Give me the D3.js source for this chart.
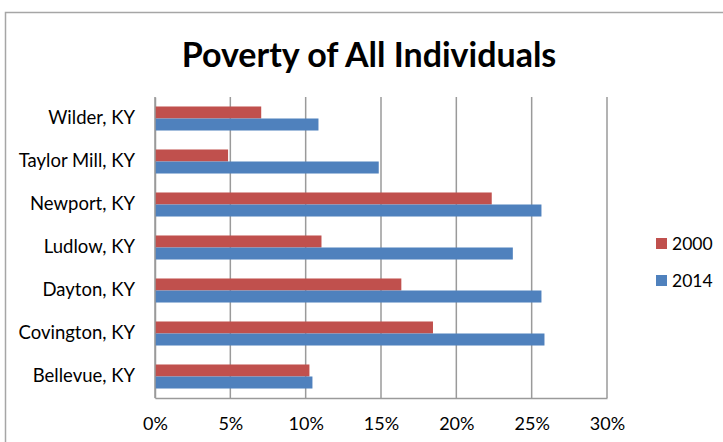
<!DOCTYPE html>
<meta charset="utf-8">
<script src="https://d3js.org/d3.v7.min.js"></script>
<style>
  body { margin: 0; background: #fff; }
  text { font-family: Lato, "Liberation Sans", sans-serif; fill: #000; }
</style>
<div id="my_dataviz"></div>
<script>
    // data (top to bottom)
    var cities = ["Wilder, KY", "Taylor Mill, KY", "Newport, KY", "Ludlow, KY", "Dayton, KY", "Covington, KY", "Bellevue, KY"];
    var years = ["2000", "2014"];
    var pov2000 = [7.0, 4.8, 22.3, 11.0, 16.3, 18.4, 10.2];
    var pov2014 = [10.8, 14.8, 25.6, 23.7, 25.6, 25.8, 10.4];
    var xTicks = [0, 5, 10, 15, 20, 25, 30];
    var colors = ["#C0504D", "#4F81BD"];

    var W = 723, H = 442;
    var margin = {top: 97, right: 116, bottom: 44, left: 155},
        width = W - margin.left - margin.right,
        height = H - margin.top - margin.bottom;

    var svg = d3.select("#my_dataviz")
      .append("svg")
        .attr("width", W)
        .attr("height", H);

    // chart frame
    svg.append("rect")
        .attr("x", 5.5).attr("y", 12.5)
        .attr("width", W).attr("height", H)
        .attr("fill", "none")
        .attr("stroke", "#A6A6A6")
        .attr("stroke-width", 1.5);

    svg.append("text")
        .attr("x", 369)
        .attr("y", 67)
        .attr("text-anchor", "middle")
        .style("font-size", "34px")
        .style("font-weight", "bold")
        .text("Poverty of All Individuals");

    var g = svg.append("g")
        .attr("transform", "translate(" + margin.left + "," + margin.top + ")");

    var x = d3.scaleLinear()
        .domain([0, 30])
        .range([0, width]);

    var y = d3.scaleBand()
        .domain(cities)
        .range([0, height])
        .padding(0);

    var ySub = d3.scaleBand()
        .domain(years)
        .range([0, y.bandwidth()])
        .paddingInner(0)
        .paddingOuter(0.79);

    // gridlines
    g.append("g")
        .selectAll("line")
        .data(xTicks)
        .enter()
        .append("line")
        .attr("x1", function(d) { return x(d); })
        .attr("x2", function(d) { return x(d); })
        .attr("y1", 0)
        .attr("y2", height)
        .attr("stroke", "#9A9A9A")
        .attr("stroke-width", 1.5);

    // x axis
    var xAxis = g.append("g")
        .attr("transform", "translate(0," + height + ")")
        .call(d3.axisBottom(x).tickValues(xTicks).tickSize(0).tickPadding(19)
              .tickFormat(function(d) { return d + "%"; }));
    xAxis.select(".domain").attr("stroke", "#9A9A9A").attr("stroke-width", 1.5);
    xAxis.selectAll("text").style("font-size", "18px").style("font-family", "Lato, sans-serif").attr("fill", "#000");

    // y axis
    var yAxis = g.append("g")
        .call(d3.axisLeft(y).tickSize(0).tickPadding(20));
    yAxis.select(".domain").attr("stroke", "#9A9A9A").attr("stroke-width", 1.5);
    yAxis.selectAll("text").style("font-size", "18.5px").style("font-family", "Lato, sans-serif").attr("fill", "#000");

    // bars
    var rows = cities.map(function(c, i) {
        return {city: c, values: [pov2000[i], pov2014[i]]};
    });

    g.selectAll("g.city")
        .data(rows)
        .enter()
        .append("g")
        .attr("class", "city")
        .attr("transform", function(d) { return "translate(0," + y(d.city) + ")"; })
        .selectAll("rect")
        .data(function(d) { return d.values.map(function(v, j) { return {year: years[j], value: v, j: j}; }); })
        .enter()
        .append("rect")
        .attr("x", x(0) + 0.75)
        .attr("y", function(d) { return ySub(d.year); })
        .attr("width", function(d) { return x(d.value) - x(0); })
        .attr("height", ySub.bandwidth())
        .attr("fill", function(d) { return colors[d.j]; });

    // legend
    var legend = svg.append("g")
        .selectAll("g")
        .data(years)
        .enter()
        .append("g")
        .attr("transform", function(d, i) { return "translate(656," + (238 + i * 37) + ")"; });
    legend.append("rect")
        .attr("width", 11).attr("height", 11)
        .attr("fill", function(d, i) { return colors[i]; });
    legend.append("text")
        .attr("x", 16)
        .attr("y", 11.5)
        .style("font-size", "17.5px")
        .text(function(d) { return d; });
</script>
